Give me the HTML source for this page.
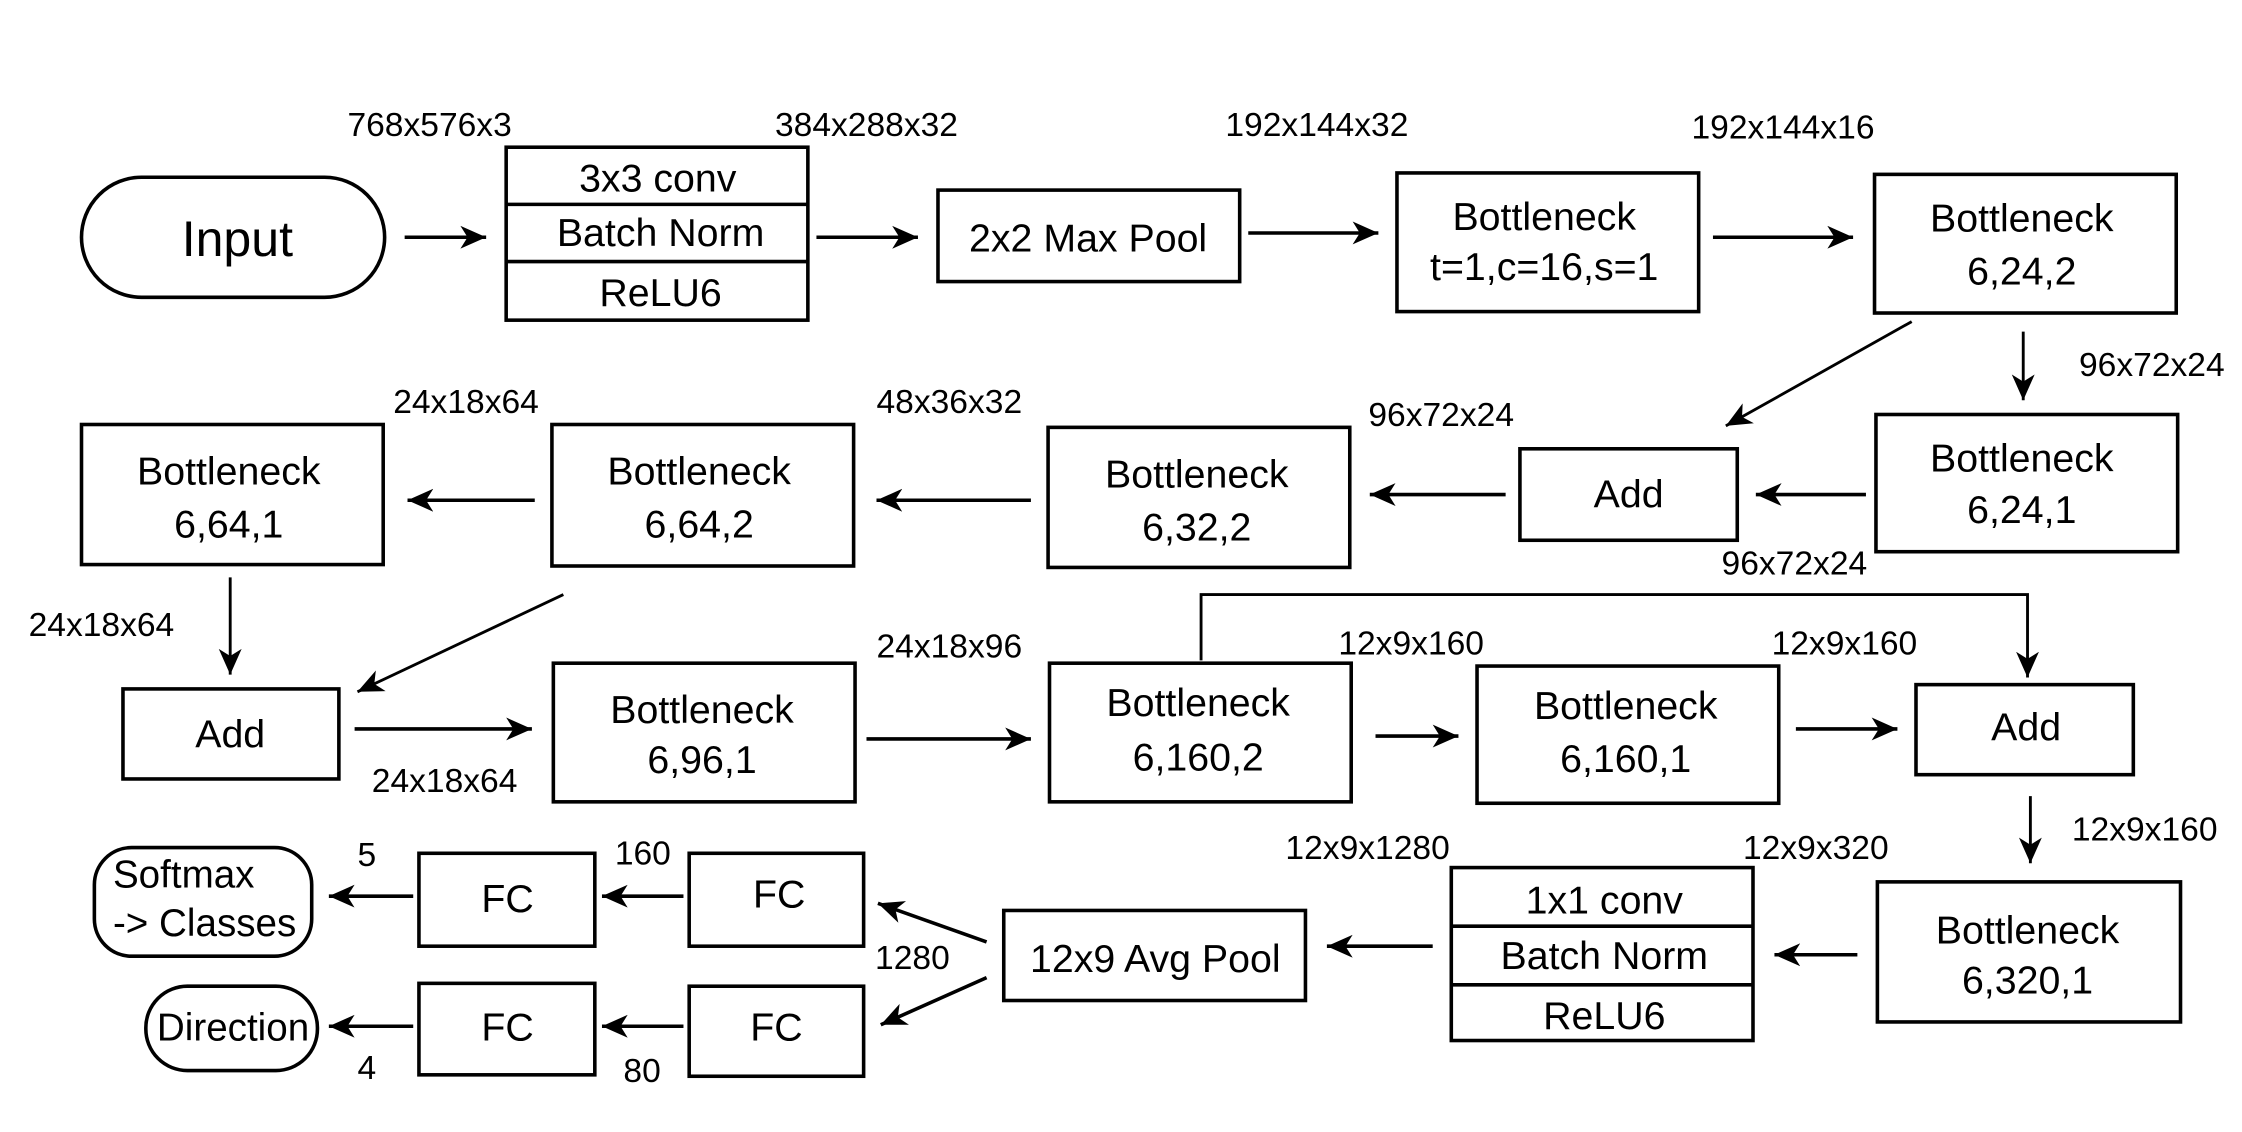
<!DOCTYPE html>
<html><head><meta charset="utf-8"><style>
html,body{margin:0;padding:0;background:#fff;}
svg{display:block;}
text{font-family:"Liberation Sans",Arial,sans-serif;fill:#000;}
.l{font-size:23.5px;}
.b{font-size:27.5px;text-anchor:middle;}
</style></head><body>
<svg width="2242" height="1132" viewBox="0 0 1568 792" preserveAspectRatio="none" xmlns="http://www.w3.org/2000/svg">
<defs>
<marker id="a" markerUnits="userSpaceOnUse" markerWidth="20" markerHeight="20" viewBox="0 0 20 20" refX="18" refY="10" orient="auto">
<path d="M0,2 L18,10 L0,18 L5,10 Z" fill="#000"/>
</marker>
</defs>
<g fill="none" stroke="#000" stroke-width="2.5">
<rect x="57" y="124" width="212" height="84" rx="42"/>
<rect x="354" y="103" width="211" height="121"/>
<line x1="354" y1="143" x2="565" y2="143"/><line x1="354" y1="183" x2="565" y2="183"/>
<rect x="656" y="133" width="211" height="64"/>
<rect x="977" y="121" width="211" height="97"/>
<rect x="1311" y="122" width="211" height="97"/>
<rect x="1312" y="290" width="211" height="96"/>
<rect x="1063" y="314" width="152" height="64"/>
<rect x="733" y="299" width="211" height="98"/>
<rect x="386" y="297" width="211" height="99"/>
<rect x="57" y="297" width="211" height="98"/>
<rect x="86" y="482" width="151" height="63"/>
<rect x="387" y="464" width="211" height="97"/>
<rect x="734" y="464" width="211" height="97"/>
<rect x="1033" y="466" width="211" height="96"/>
<rect x="1340" y="479" width="152" height="63"/>
<rect x="1313" y="617" width="212" height="98"/>
<rect x="1015" y="607" width="211" height="121"/>
<line x1="1015" y1="648" x2="1226" y2="648"/><line x1="1015" y1="689" x2="1226" y2="689"/>
<rect x="702" y="637" width="211" height="63"/>
<rect x="482" y="597" width="122" height="65"/>
<rect x="293" y="597" width="123" height="65"/>
<rect x="482" y="690" width="122" height="63"/>
<rect x="293" y="688" width="123" height="64"/>
<rect x="66" y="593" width="152" height="76" rx="26"/>
<rect x="102" y="690" width="120" height="59" rx="29"/>
</g>
<g fill="none" stroke="#000" stroke-width="2.5" marker-end="url(#a)">
<line x1="283" y1="166" x2="340" y2="166"/>
<line x1="571" y1="166" x2="642" y2="166"/>
<line x1="873" y1="163" x2="964" y2="163"/>
<line x1="1198" y1="166" x2="1296" y2="166"/>
<line x1="1337" y1="225" x2="1207" y2="298" stroke-width="2"/>
<line x1="1415" y1="232" x2="1415" y2="280" stroke-width="2"/>
<line x1="1305" y1="346" x2="1228" y2="346"/>
<line x1="1053" y1="346" x2="958" y2="346"/>
<line x1="721" y1="350" x2="613" y2="350"/>
<line x1="374" y1="350" x2="285" y2="350"/>
<line x1="161" y1="404" x2="161" y2="472" stroke-width="2"/>
<line x1="394" y1="416" x2="250" y2="484" stroke-width="2"/>
<line x1="248" y1="510" x2="372" y2="510"/>
<line x1="606" y1="517" x2="721" y2="517"/>
<polyline points="840,462 840,416 1418,416 1418,474" stroke-width="2"/>
<line x1="962" y1="515" x2="1020" y2="515"/>
<line x1="1256" y1="510" x2="1327" y2="510"/>
<line x1="1420" y1="557" x2="1420" y2="604" stroke-width="2"/>
<line x1="1299" y1="668" x2="1241" y2="668"/>
<line x1="1002" y1="662" x2="928" y2="662"/>
<line x1="690" y1="659" x2="614" y2="632"/>
<line x1="690" y1="684" x2="616" y2="717"/>
<line x1="478" y1="627" x2="421" y2="627"/>
<line x1="289" y1="627" x2="230" y2="627"/>
<line x1="478" y1="718" x2="421" y2="718"/>
<line x1="289" y1="718" x2="230" y2="718"/>
</g>
<g>
<text x="243" y="95" class="l">768x576x3</text>
<text x="542" y="95" class="l">384x288x32</text>
<text x="857" y="95" class="l">192x144x32</text>
<text x="1183" y="97" class="l">192x144x16</text>
<text x="1454" y="263" class="l">96x72x24</text>
<text x="957" y="298" class="l">96x72x24</text>
<text x="1204" y="402" class="l">96x72x24</text>
<text x="613" y="289" class="l">48x36x32</text>
<text x="275" y="289" class="l">24x18x64</text>
<text x="20" y="445" class="l">24x18x64</text>
<text x="260" y="554" class="l">24x18x64</text>
<text x="613" y="460" class="l">24x18x96</text>
<text x="936" y="458" class="l">12x9x160</text>
<text x="1239" y="458" class="l">12x9x160</text>
<text x="1449" y="588" class="l">12x9x160</text>
<text x="1219" y="601" class="l">12x9x320</text>
<text x="899" y="601" class="l">12x9x1280</text>
<text x="612" y="678" class="l">1280</text>
<text x="430" y="605" class="l">160</text>
<text x="250" y="606" class="l">5</text>
<text x="436" y="757" class="l">80</text>
<text x="250" y="755" class="l">4</text>
</g>
<g>
<text x="166" y="179" class="b" style="font-size:35px">Input</text>
<text x="460" y="134" class="b">3x3 conv</text>
<text x="462" y="172" class="b">Batch Norm</text>
<text x="462" y="214" class="b">ReLU6</text>
<text x="761" y="176" class="b">2x2 Max Pool</text>
<text x="1080" y="161" class="b">Bottleneck</text>
<text x="1080" y="196" class="b">t=1,c=16,s=1</text>
<text x="1414" y="162" class="b">Bottleneck</text>
<text x="1414" y="199" class="b">6,24,2</text>
<text x="1414" y="330" class="b">Bottleneck</text>
<text x="1414" y="366" class="b">6,24,1</text>
<text x="1139" y="355" class="b">Add</text>
<text x="837" y="341" class="b">Bottleneck</text>
<text x="837" y="378" class="b">6,32,2</text>
<text x="489" y="339" class="b">Bottleneck</text>
<text x="489" y="376" class="b">6,64,2</text>
<text x="160" y="339" class="b">Bottleneck</text>
<text x="160" y="376" class="b">6,64,1</text>
<text x="161" y="523" class="b">Add</text>
<text x="491" y="506" class="b">Bottleneck</text>
<text x="491" y="541" class="b">6,96,1</text>
<text x="838" y="501" class="b">Bottleneck</text>
<text x="838" y="539" class="b">6,160,2</text>
<text x="1137" y="503" class="b">Bottleneck</text>
<text x="1137" y="540" class="b">6,160,1</text>
<text x="1417" y="518" class="b">Add</text>
<text x="1418" y="660" class="b">Bottleneck</text>
<text x="1418" y="695" class="b">6,320,1</text>
<text x="1122" y="639" class="b">1x1 conv</text>
<text x="1122" y="678" class="b">Batch Norm</text>
<text x="1122" y="720" class="b">ReLU6</text>
<text x="808" y="680" class="b">12x9 Avg Pool</text>
<text x="545" y="635" class="b">FC</text>
<text x="355" y="638" class="b">FC</text>
<text x="543" y="728" class="b">FC</text>
<text x="355" y="728" class="b">FC</text>
<text x="79" y="621" style="font-size:27px">Softmax</text>
<text x="79" y="655" style="font-size:27px">-&gt; Classes</text>
<text x="163" y="728" class="b" style="font-size:27px">Direction</text>
</g>
</svg>
</body></html>
